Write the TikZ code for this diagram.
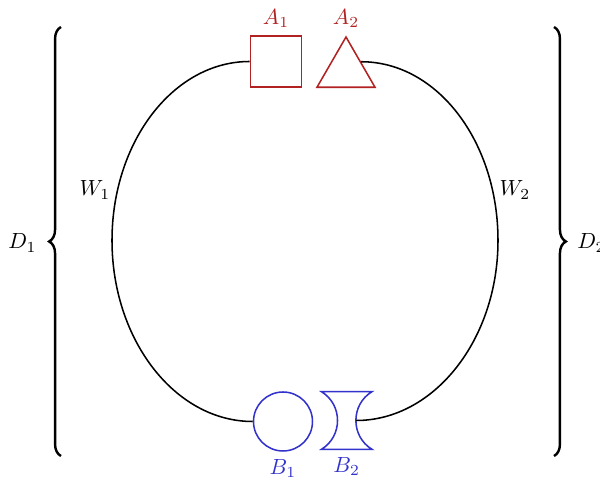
\documentclass[tikz,border=0pt]{standalone}
\usetikzlibrary{shapes.geometric,decorations.pathreplacing,calc}
\definecolor{shapered}{RGB}{178,34,34}
\definecolor{shapeblue}{RGB}{51,51,204}

\begin{document}
\begin{tikzpicture}[
            x=0.016cm,
            y=-0.016cm,
            wire/.style={line width=0.7pt},
            redshape/.style={draw=shapered, line width=0.7pt, inner sep=0pt},
            blueshape/.style={draw=shapeblue, line width=0.7pt, inner sep=0pt},
            bigbrace/.style={decorate, decoration={brace, amplitude=0.19cm}, line width=1.1pt}
        ]
        \useasboundingbox (0,0) rectangle (600,483);

        \node[redshape, minimum size=0.82cm, label={[text=shapered]above:$A_1$}] (A1) at (276,61.5) {};
        \node[redshape, regular polygon, regular polygon sides=3, minimum size=1.072cm,
              label={[text=shapered]above:$A_2$}] (A2) at (346,70.5) {};
        \node[blueshape, circle, minimum size=0.944cm, label={[text=shapeblue]below:$B_1$}] (B1) at (283,421.5) {};
        \node[inner sep=0pt, minimum width=0.8cm, minimum height=0.912cm,
              label={[text=shapeblue]below:$B_2$}] (B2) at (346.7,420.5) {};
        \draw[shapeblue, line width=0.7pt] (B2.north west) -- (B2.north east)
            to[bend right=59, looseness=1.12] (B2.south east) -- (B2.south west)
            to[bend right=59, looseness=1.12] (B2.north west) -- cycle;
        \coordinate (B2in) at ($(B2.east)+(-16,0)$);

        % half ellipses between the shapes
        \coordinate (left) at (112,240.5);
        \coordinate (right) at (498,240.5);
        \draw[wire] (A1.west) .. controls +(-76,0) and +(0,-99) .. (left)
            .. controls +(0,99) and +(-78,0) .. (B1.west);
        \draw[wire] (A2.side 3) .. controls +(76,0) and +(0,-99) .. (right)
            .. controls +(0,99) and +(78,0) .. (B2in);

        \node (W1) at (95,190) {$W_1$};
        \node (W2) at (515,190) {$W_2$};

        \draw[bigbrace] (61,456) -- (61,27);
        \draw[bigbrace] (554,27) -- (554,456);
        \node (D1) at (22.5,243) {$D_1$};
        \node[anchor=west, inner sep=0pt] (D2) at (577,243) {$D_2$};

    \end{tikzpicture}
\end{document}
